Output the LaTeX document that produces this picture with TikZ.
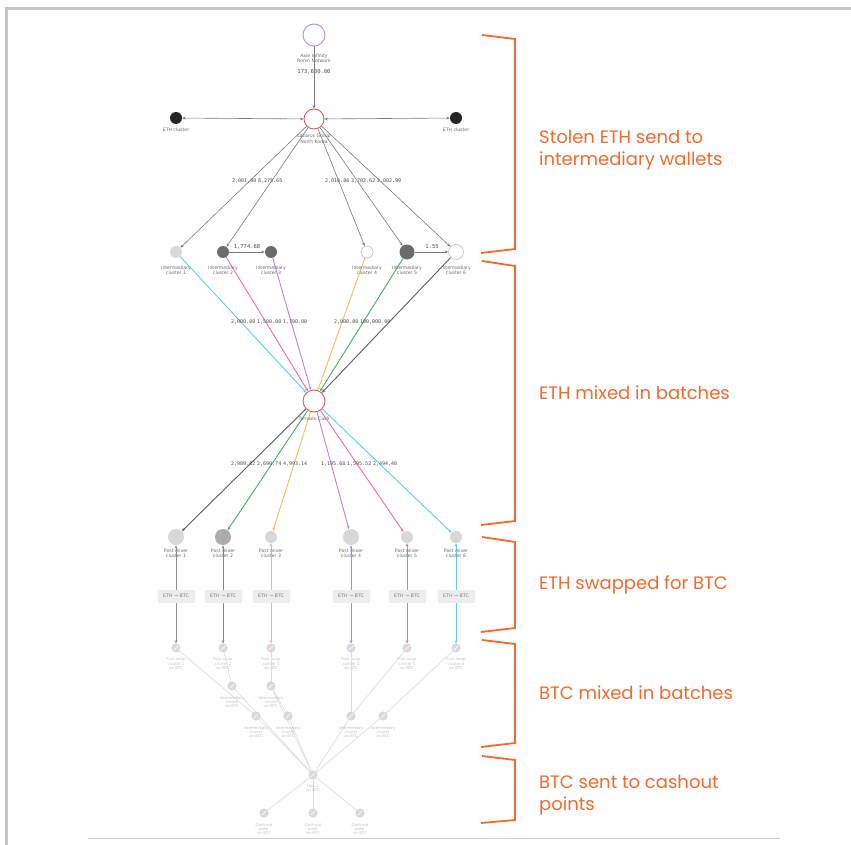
\documentclass[tikz,border=0pt]{standalone}
\usepackage{fontspec}
\setmainfont{DejaVu Sans}
\newfontfamily\stagefont{Poppins}
\newfontfamily\amountfont{DejaVu Sans Mono}
\usetikzlibrary{arrows.meta}

\definecolor{stage}{HTML}{F26A2E}
\definecolor{framegray}{HTML}{C5C6CA}
\definecolor{edgegray}{HTML}{7A7A7A}
\definecolor{lblgray}{HTML}{6A6A6A}
\definecolor{btcline}{HTML}{DCDCDC}
\definecolor{btcfill}{HTML}{DADADA}
\definecolor{btctext}{HTML}{C2C2C2}
\definecolor{fcyan}{HTML}{5FCFDF}
\definecolor{fpink}{HTML}{EE6F9D}
\definecolor{fpurple}{HTML}{B585DA}
\definecolor{forange}{HTML}{F6BC5C}
\definecolor{fgreen}{HTML}{4FA86E}
\definecolor{fdark}{HTML}{5C5C5C}
\definecolor{ringred}{HTML}{E05A5A}
\definecolor{ringpurple}{HTML}{B78CE2}
\definecolor{darkwallet}{HTML}{6B6B6B}
\definecolor{lightwallet}{HTML}{D8D8D8}

\tikzset{
  >={Stealth[length=3.4pt,width=2.8pt]},
  wallet/.style={circle, inner sep=0pt, minimum size=#1},
  ring/.style={circle, inner sep=0pt, draw=#1, line width=0.9pt, fill=white},
  lbl/.style={font=\fontsize{4.6}{5.4}\selectfont, text=lblgray, align=center, inner sep=0pt},
  btclbl/.style={font=\fontsize{3.8}{4.4}\selectfont, text=btctext, align=center, inner sep=0pt},
  amt/.style={font=\amountfont\fontsize{5}{6}\selectfont, text=black!70, inner sep=0pt, anchor=west},
  next/.style={anchor=west, xshift=1.5pt},
  flow/.style={draw=edgegray, line width=0.6pt, ->},
  mix/.style={line width=0.9pt, ->},
  hop/.style={draw=btcline, line width=0.6pt},
  swapbox/.style={fill=black!7, text=black!50, font=\fontsize{4.8}{5.5}\selectfont,
    minimum width=37pt, minimum height=13pt, inner sep=0pt},
  btcnode/.style={circle, inner sep=0pt, minimum size=8.5pt, fill=btcfill, draw=black!18,
    line width=0.4pt,
    path picture={\draw[white, line width=0.5pt]
      ([shift={(1.8pt,1.8pt)}]path picture bounding box.south west) --
      ([shift={(-1.8pt,-1.8pt)}]path picture bounding box.north east);}},
  bracket/.style={draw=stage, line width=1.8pt, line join=miter},
  stagetxt/.style={font=\stagefont\fontsize{18}{22}\selectfont, text=stage, align=left,
    anchor=west, inner sep=0pt}
}

\begin{document}
\begin{tikzpicture}[x=1pt,y=-1pt]
\useasboundingbox (0,0) rectangle (851,845);
\fill[white] (0,0) rectangle (851,845);
% page frame
\fill[framegray] (5,7) rectangle (8,845);
\fill[framegray] (5,7) rectangle (851,10);
\draw[black!20, line width=0.8pt] (88,838) -- (780,838);

% ---- source and Lazarus ----
\node[ring=ringpurple, minimum size=22pt] (axie) at (314,35) {};
\node[lbl] (axiel) at (314,58) {Axie Infinity\\Ronin Network};
\node[amt, anchor=center, font=\amountfont\fontsize{5.5}{6}\selectfont] (axieamt) at (314,72) {173,600.00};
\node[ring=ringred, minimum size=20pt] (laz) at (314,119) {};
\node[wallet=12pt, fill=black!85] (ethl) at (176,118) {};
\node[lbl] (ethll) at (176,130) {ETH cluster};
\node[wallet=12pt, fill=black!85] (ethr) at (456,118) {};
\node[lbl] (ethrl) at (456,130) {ETH cluster};

\draw[flow] (axie) -- (laz);
\draw[flow, <->] (ethl) -- (laz);
\draw[flow, <->] (ethr) -- (laz);

% ---- intermediary clusters ----
\node[wallet=12pt, fill=lightwallet] (c1) at (176,252) {};
\node[wallet=12pt, fill=darkwallet] (c2) at (223,252) {};
\node[wallet=12pt, fill=darkwallet] (c3) at (271,252) {};
\node[wallet=12pt, fill=white, draw=black!22, line width=0.7pt] (c4) at (367,252) {};
\node[wallet=15pt, fill=darkwallet] (c5) at (407,252) {};
\node[wallet=15pt, fill=white, draw=black!22, line width=0.7pt] (c6) at (456,252) {};

\draw[flow] (laz) -- (c1);
\draw[flow] (laz) -- (c2);
\draw[flow] (laz) -- (c4);
\draw[flow] (laz) -- (c5);
\draw[flow] (laz) -- (c6);
\draw[flow] (c2) -- (c3);
\draw[flow] (c5) -- (c6);

\node[lbl] (lazl) at (314,139) {Lazarus Group\\North Korea};
% amounts leaving Lazarus
\node[amt] (a11) at (232,181) {2,001.00};
\node[amt] (a12) at ([next]a11.east) {8,275.65};
\node[amt] (a14) at (325,181) {2,010.86};
\node[amt] (a15) at ([next]a14.east) {3,702.62};
\node[amt] (a16) at ([next]a15.east) {2,002.99};
\node[amt, anchor=center, font=\amountfont\fontsize{5.5}{6}\selectfont] (a23) at (247,247) {1,774.68};
\node[amt, anchor=center, font=\amountfont\fontsize{5.5}{6}\selectfont] (a56) at (432,247) {1.55};

% ---- Tornado Cash ----
\node[ring=ringred, minimum size=22pt] (tc) at (314,401) {};

\draw[mix, fcyan] (c1) -- (tc);
\draw[mix, fpink] (c2) -- (tc);
\draw[mix, fpurple] (c3) -- (tc);
\draw[mix, forange] (c4) -- (tc);
\draw[mix, fgreen] (c5) -- (tc);
\draw[mix, fdark] (c6) -- (tc);

\node[lbl] (c1l) at (176,270) {Intermediary\\cluster 1};
\node[lbl] (c2l) at (223,270) {Intermediary\\cluster 2};
\node[lbl] (c3l) at (271,270) {Intermediary\\cluster 3};
\node[lbl] (c4l) at (367,270) {Intermediary\\cluster 4};
\node[lbl] (c5l) at (407,270) {Intermediary\\cluster 5};
\node[lbl] (c6l) at (456,270) {Intermediary\\cluster 6};

% amounts entering the mixer
\node[amt] (b1) at (231,322) {2,000.00};
\node[amt] (b2) at ([next]b1.east) {1,500.00};
\node[amt] (b3) at ([next]b2.east) {1,700.00};
\node[amt] (b4) at (334,322) {2,000.00};
\node[amt] (b5) at ([next]b4.east) {100,000.00};

% ---- post mixer clusters ----
\node[wallet=16pt, fill=lightwallet] (pm1) at (176,537) {};
\node[wallet=16pt, fill=black!33] (pm2) at (223,537) {};
\node[wallet=12pt, fill=lightwallet] (pm3) at (271,537) {};
\node[wallet=16pt, fill=lightwallet] (pm4) at (351,537) {};
\node[wallet=12pt, fill=lightwallet] (pm5) at (407,537) {};
\node[wallet=12pt, fill=lightwallet] (pm6) at (456,537) {};

\draw[mix, fdark] (tc) -- (pm1);
\draw[mix, fgreen] (tc) -- (pm2);
\draw[mix, forange] (tc) -- (pm3);
\draw[mix, fpurple] (tc) -- (pm4);
\draw[mix, fpink] (tc) -- (pm5);
\draw[mix, fcyan] (tc) -- (pm6);

\node[lbl] (tcl) at (314,419) {Tornado Cash};
% amounts leaving the mixer
\node[amt] (d1) at (231,464) {2,989.82};
\node[amt] (d2) at ([next]d1.east) {2,690.74};
\node[amt] (d3) at ([next]d2.east) {4,993.14};
\node[amt] (d4) at (321,464) {1,195.68};
\node[amt] (d5) at ([next]d4.east) {1,595.52};
\node[amt] (d6) at ([next]d5.east) {2,494.40};

% ---- swaps into BTC ----
\node[btcnode] (ps1) at (176,648) {};
\node[btcnode] (ps2) at (223,648) {};
\node[btcnode] (ps3) at (271,648) {};
\node[btcnode] (ps4) at (351,648) {};
\node[btcnode] (ps5) at (407,648) {};
\node[btcnode] (ps6) at (456,648) {};

\draw[mix, <->, fdark!70] (pm1) -- (ps1);
\draw[mix, <->, fgreen] (pm2) -- (ps2);
\draw[mix, <->, forange] (pm3) -- (ps3);
\draw[mix, <->, fpurple] (pm4) -- (ps4);
\draw[mix, <->, fpink] (pm5) -- (ps5);
\draw[mix, <->, fcyan] (pm6) -- (ps6);

\foreach \i/\x in {1/176,2/223,3/271,4/351,5/407,6/456}{
  \node[lbl] (pm\i l) at (\x,553) {Post mixer\\cluster \i};
  \node[swapbox] (sw\i) at (\x,596) {ETH → BTC};
  \node[btclbl] (ps\i l) at (\x,664) {Post-swap\\cluster \i\\on BTC};
}

% ---- BTC peel chain ----
\node[btcnode] (r1a) at (232,686) {};
\node[btcnode] (r1b) at (271,686) {};
\node[btcnode] (r2a) at (256,716) {};
\node[btcnode] (r2b) at (288,716) {};
\node[btcnode] (r2c) at (351,716) {};
\node[btcnode] (r2d) at (383,716) {};
\node[btcnode] (hub) at (313,775) {};
\node[btcnode] (co1) at (264,813) {};
\node[btcnode] (co2) at (313,813) {};
\node[btcnode] (co3) at (360,813) {};

\draw[hop] (ps1) -- (r2a);
\draw[hop] (ps2) -- (r1a);
\draw[hop] (ps3) -- (r1b);
\draw[hop] (ps4) -- (r2c);
\draw[hop] (ps5) -- (r2c);
\draw[hop] (ps6) -- (r2d);
\draw[hop] (r1a) -- (hub);
\draw[hop] (r1b) -- (r2b);
\draw[hop] (r1b) -- (hub);
\draw[hop] (r2a) -- (hub);
\draw[hop] (r2b) -- (hub);
\draw[hop] (r2c) -- (hub);
\draw[hop] (r2d) -- (hub);
\draw[hop] (hub) -- (co1);
\draw[hop] (hub) -- (co2);
\draw[hop] (hub) -- (co3);

\node[btclbl] (r1al) at (232,702) {Intermediary\\cluster\\on BTC};
\node[btclbl] (r1bl) at (271,702) {Intermediary\\cluster\\on BTC};
\node[btclbl] (r2al) at (256,732) {Intermediary\\cluster\\on BTC};
\node[btclbl] (r2bl) at (288,732) {Intermediary\\cluster\\on BTC};
\node[btclbl] (r2cl) at (351,732) {Intermediary\\cluster\\on BTC};
\node[btclbl] (r2dl) at (383,732) {Intermediary\\cluster\\on BTC};
\node[btclbl] (hubl) at (313,788) {Hub 1\\on BTC};
\node[btclbl] (co1l) at (264,829) {Cash out\\point\\on BTC};
\node[btclbl] (co2l) at (313,829) {Cash out\\point\\on BTC};
\node[btclbl] (co3l) at (360,829) {Cash out\\point\\on BTC};

% ---- stage brackets ----
\draw[bracket] (482,35) -- (515,39) -- (515,249) -- (481,253);
\draw[bracket] (482,261) -- (515,266) -- (515,521) -- (481,525);
\draw[bracket] (482,537) -- (515,542) -- (515,628) -- (481,632);
\draw[bracket] (482,640) -- (515,644) -- (515,743) -- (481,747);
\draw[bracket] (482,756) -- (515,760) -- (515,820) -- (481,823);

\node[stagetxt] (st1) at (539,150) {Stolen ETH send to\\intermediary wallets};
\node[stagetxt] (st2) at (539,393) {ETH mixed in batches};
\node[stagetxt] (st3) at (539,585) {ETH swapped for BTC};
\node[stagetxt] (st4) at (539,693) {BTC mixed in batches};
\node[stagetxt] (st5) at (539,795) {BTC sent to cashout\\points};
\end{tikzpicture}
\end{document}
